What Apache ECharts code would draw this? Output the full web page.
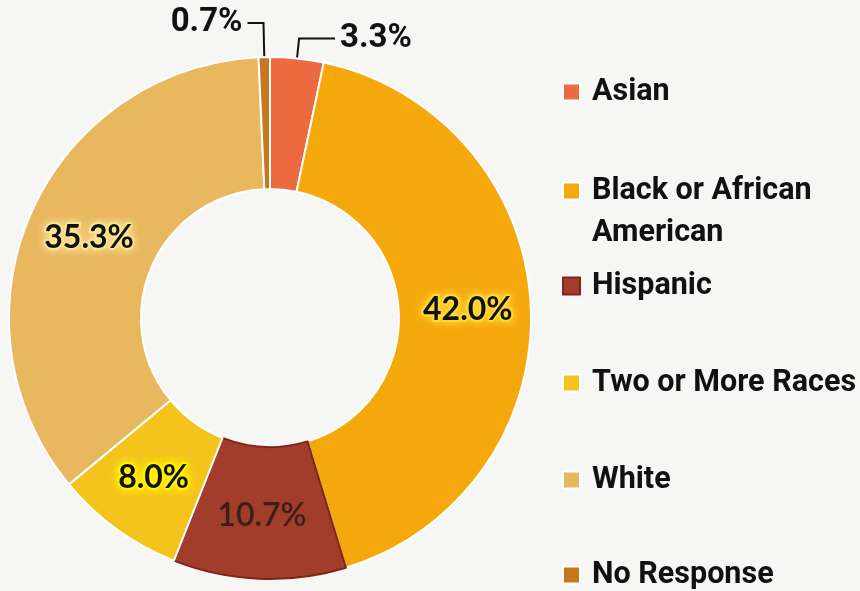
<!DOCTYPE html>
<html>
<head>
<meta charset="utf-8">
<script src="https://cdn.jsdelivr.net/npm/echarts@6/dist/echarts.min.js"></script>
<style>
  html, body { margin: 0; padding: 0; background: #f6f6f5; }
  #chart { width: 860px; height: 591px; }
</style>
</head>
<body>
<div id="chart"></div>
<script>
// data (percent of respondents)
const categories = ["Asian", "Black or African American", "Hispanic", "Two or More Races", "White", "No Response"];
const shares = [3.3, 42.0, 10.7, 8.0, 35.3, 0.7];
const palette = ["#ec6a40", "#f5a80c", "#a23c2b", "#f4c41c", "#e8b75e", "#c7781c"];

// vertical centre of each legend row
const legendRows = [89, 188, 283, 380, 477, 572];

const lineH = 42;
const legendFont = "Roboto, 'Liberation Sans', sans-serif";

// label look per slice
const labelStyles = [
  { position: "outside" },
  { glow: "#ffd83a" },
  { color: "#3a2016", fontWeight: 600, glow: null },
  { glow: "#fff200" },
  { glow: "#fbe394" },
  { position: "outside" },
];

const chart = echarts.init(document.getElementById("chart"));

const legends = categories.map(function (name, i) {
  const twoLines = name === "Black or African American";
  return {
    data: [name],
    orient: "vertical",
    left: 562,
    top: twoLines ? legendRows[i] - lineH * 1.5 + 3 : legendRows[i] - 18,
    padding: 0,
    itemWidth: 17,
    itemHeight: 17,
    icon: "rect",
    formatter: function (n) {
      // blank first line keeps the swatch beside "Black or African"
      return n === "Black or African American" ? " \nBlack or African\nAmerican" : n;
    },
    textStyle: {
      fontFamily: legendFont,
      fontWeight: "bold",
      fontSize: 30.5,
      lineHeight: lineH,
      color: "#111",
      padding: [0, 0, 0, 7],
    },
  };
});

const seriesData = categories.map(function (name, i) {
  const s = labelStyles[i];
  const item = { name: name, value: shares[i], itemStyle: { color: palette[i] } };
  if (s.position === "outside") {
    item.label = {
      position: "outside",
      fontFamily: "Roboto, sans-serif",
      fontWeight: "bold",
      fontSize: 33,
      color: "#111",
      textBorderWidth: 0,
      textShadowBlur: 0,
      distanceToLabelLine: 5,
    };
    item.labelLine = {
      show: true,
      length: i === 0 ? 20 : 34,
      length2: i === 0 ? 36 : 16,
      lineStyle: { color: "#111", width: 2 },
    };
  } else {
    item.label = {
      position: "inside",
      color: s.color || "#111",
      fontWeight: s.fontWeight || "bold",
      textBorderColor: s.glow || "transparent",
      textBorderWidth: s.glow ? 4 : 0,
      textShadowColor: s.glow || "transparent",
      textShadowBlur: s.glow ? 10 : 0,
    };
    item.labelLine = { show: false };
  }
  if (name === "Hispanic") {
    item.itemStyle.borderColor = "#7e2618";
    item.itemStyle.borderWidth = 2;
  }
  return item;
});

const option = {
  backgroundColor: "#f6f6f5",
  animation: false,
  legend: legends,
  series: [
    {
      type: "pie",
      center: [270, 318],
      radius: [129, 261],
      startAngle: 90,
      clockwise: true,
      avoidLabelOverlap: false,
      itemStyle: { borderColor: "#ffffff", borderWidth: 2 },
      label: {
        show: true,
        formatter: function (p) { return p.value.toFixed(1) + "%"; },
        fontFamily: "Lato, 'Open Sans', sans-serif",
        fontSize: 32,
      },
      emphasis: { scale: false },
      data: seriesData,
    },
  ],
};

chart.setOption(option);
</script>
</body>
</html>
